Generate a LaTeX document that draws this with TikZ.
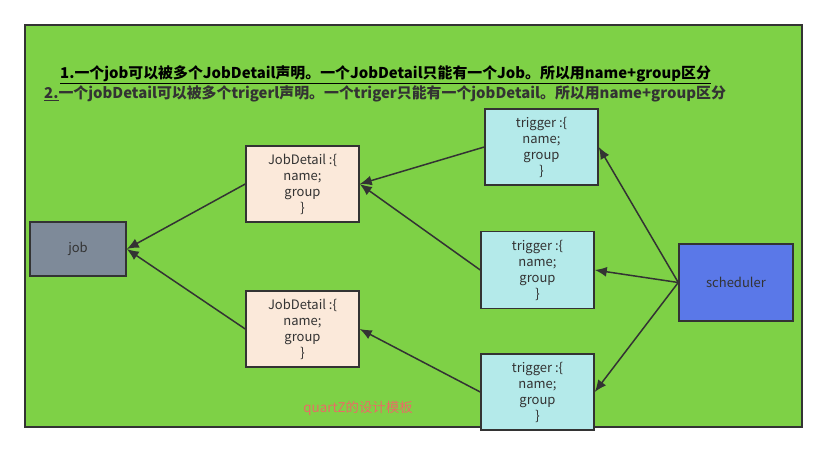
\documentclass[tikz,border=0pt]{standalone}
\usepackage{fontspec}
\setmainfont{Noto Sans CJK SC}
\usepackage{xcolor}
\usepackage{tikz}
\usetikzlibrary{arrows,arrows.meta,positioning,calc}

\definecolor{bggreen}{HTML}{7ED146}
\definecolor{linegray}{HTML}{333333}
\definecolor{jobfill}{HTML}{7E8A99}
\definecolor{detailfill}{HTML}{FBE9DA}
\definecolor{trigfill}{HTML}{B4EAEA}
\definecolor{schedfill}{HTML}{5A78E8}
\definecolor{notered}{HTML}{EA6B66}

\begin{document}
\begin{tikzpicture}[x=1pt,y=-1pt,>={Latex[length=12pt,width=10pt]},font=\fontsize{13}{16}\selectfont]
	\tikzstyle{every node}=[text=linegray]
	\tikzstyle{box}=[draw=linegray,line width=1.5pt,align=center,inner sep=0pt]
	\tikzstyle{link}=[draw=linegray,line width=1.5pt,->]
	\tikzstyle{note}=[anchor=west,inner sep=0pt,font=\fontsize{14.9}{17}\selectfont\bfseries]
	\useasboundingbox (0,0) rectangle (827,455);
	\fill[bggreen,draw=linegray,line width=1.5pt] (25,25) rectangle (802,427);
	
	\node[note,text=black](note1) at (60,75) {\underline{1.一个job可以被多个JobDetail声明。一个JobDetail只能有一个Job。所以用name+group区分}};
	\node[note](note2) at (44,94) {\underline{2.}一个jobDetail可以被多个trigerl声明。一个triger只能有一个jobDetail。所以用name+group区分};
	
	\node[box,fill=jobfill,minimum width=96pt,minimum height=54pt](job) at (78,249) {job};
	\node[box,fill=detailfill,minimum width=113pt,minimum height=76pt](detail1) at (302.5,184) {JobDetail :\{\\name;\\group\\\}};
	\node[box,fill=detailfill,minimum width=113pt,minimum height=76pt](detail2) at (302.5,329) {JobDetail :\{\\name;\\group\\\}};
	\node[box,fill=trigfill,minimum width=113pt,minimum height=76pt](trigger1) at (541.5,147) {trigger :\{\\name;\\group\\\}};
	\node[box,fill=trigfill,minimum width=113pt,minimum height=77pt](trigger2) at (537.5,270) {trigger :\{\\name;\\group\\\}};
	\node[box,fill=trigfill,minimum width=113pt,minimum height=76pt](trigger3) at (537.5,392) {trigger :\{\\name;\\group\\\}};
	\node[box,fill=schedfill,minimum width=114pt,minimum height=77pt](scheduler) at (736,282.5) {scheduler};
	\node[text=notered,font=\fontsize{13.4}{15}\selectfont](caption) at (358,408) {quartZ的设计模板};
	
	\path[link] (detail1.west) -- (job.east);
	\path[link] (detail2.west) -- (job.east);
	\path[link] (trigger1.west) -- (detail1.east);
	\path[link] (trigger2.west) -- (detail1.east);
	\path[link] (trigger3.west) -- (detail2.east);
	\path[link] (scheduler.west) -- (trigger1.east);
	\path[link] (scheduler.west) -- (trigger2.east);
	\path[link] (scheduler.west) -- (trigger3.east);
\end{tikzpicture}
\end{document}
